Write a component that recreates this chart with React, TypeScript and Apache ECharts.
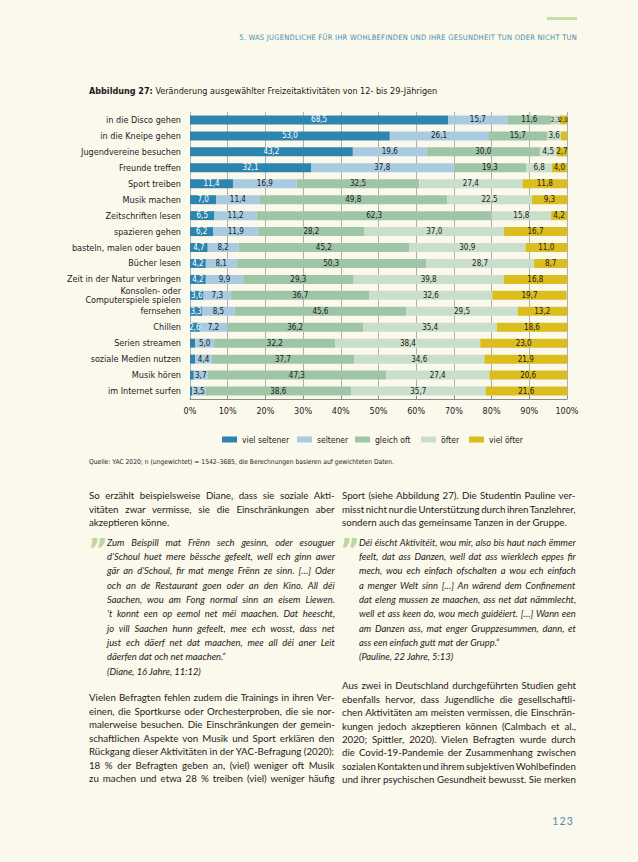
import React, { useEffect, useRef } from 'react';
import * as echarts from 'echarts';

const categories = [
  'in die Disco gehen',
  'in die Kneipe gehen',
  'Jugendvereine besuchen',
  'Freunde treffen',
  'Sport treiben',
  'Musik machen',
  'Zeitschriften lesen',
  'spazieren gehen',
  'basteln, malen oder bauen',
  'Bücher lesen',
  'Zeit in der Natur verbringen',
  'Konsolen- oder\nComputerspiele spielen',
  'fernsehen',
  'Chillen',
  'Serien streamen',
  'soziale Medien nutzen',
  'Musik hören',
  'im Internet surfen',
];
const seriesNames = ['viel seltener', 'seltener', 'gleich oft', 'öfter', 'viel öfter'];
const vielSeltener = [68.5, 53.0, 43.2, 32.1, 11.4, 7.0, 6.5, 6.2, 4.7, 4.2, 4.2, 3.6, 3.3, 2.6, 1.4, 1.4, 1.0, 0.6];
const seltener = [15.7, 26.1, 19.6, 37.8, 16.9, 11.4, 11.2, 11.9, 8.2, 8.1, 9.9, 7.3, 8.5, 7.2, 5.0, 4.4, 3.7, 3.5];
const gleichOft = [11.6, 15.7, 30.0, 19.3, 32.5, 49.8, 62.3, 28.2, 45.2, 50.3, 29.3, 36.7, 45.6, 36.2, 32.2, 37.7, 47.3, 38.6];
const oefter = [2.3, 3.6, 4.5, 6.8, 27.4, 22.5, 15.8, 37.0, 30.9, 28.7, 39.8, 32.6, 29.5, 35.4, 38.4, 34.6, 27.4, 35.7];
const vielOefter = [2.0, 1.6, 2.7, 4.0, 11.8, 9.3, 4.2, 16.7, 11.0, 8.7, 16.8, 19.7, 13.2, 18.6, 23.0, 21.9, 20.6, 21.6];
// rows whose value carries no printed label
const unlabelled = [[14, 15, 16, 17], [], [], [], [1]];
// rows whose label is printed in a smaller size (narrow segments)
const smallLabelled = [[], [], [], [0], [0]];
const xTicks = [0, 10, 20, 30, 40, 50, 60, 70, 80, 90, 100];

const headerText = '5. WAS JUGENDLICHE FÜR IHR WOHLBEFINDEN UND IHRE GESUNDHEIT TUN ODER NICHT TUN';
const titleBold = 'Abbildung 27:';
const titleRest = ' Veränderung ausgewählter Freizeitaktivitäten von 12- bis 29-Jährigen';
const sourceText = 'Quelle: YAC 2020; n (ungewichtet) = 1542–3685, die Berechnungen basieren auf gewichteten Daten.';

type Line = { t: string; j: boolean };
const J = (t: string): Line => ({ t, j: true });
const L = (t: string): Line => ({ t, j: false });

const leftP1 = [
  J('So erzählt beispielsweise Diane, dass sie soziale Akti-'),
  J('vitäten zwar vermisse, sie die Einschränkungen aber'),
  L('akzeptieren könne.'),
];
const leftQuote = [
  J('Zum Beispill mat Frënn sech gesinn, oder esouguer'),
  J('d’Schoul huet mere bëssche gefeelt, well ech ginn awer'),
  J('gär an d’Schoul, fir mat menge Frënn ze sinn. […] Oder'),
  J('och an de Restaurant goen oder an den Kino. All déi'),
  J('Saachen, wou am Fong normal sinn an eisem Liewen.'),
  J('’t konnt een op eemol net méi maachen. Dat heescht,'),
  J('jo vill Saachen hunn gefeelt, mee ech wosst, dass net'),
  J('just ech däerf net dat maachen, mee all déi aner Leit'),
  L('däerfen dat och net maachen.“'),
  L('(Diane, 16 Jahre, 11:12)'),
];
const leftP2 = [
  J('Vielen Befragten fehlen zudem die Trainings in ihren Ver-'),
  J('einen, die Sportkurse oder Orchesterproben, die sie nor-'),
  J('malerweise besuchen. Die Einschränkungen der gemein-'),
  J('schaftlichen Aspekte von Musik und Sport erklären den'),
  J('Rückgang dieser Aktivitäten in der YAC-Befragung (2020):'),
  J('18 % der Befragten geben an, (viel) weniger oft Musik'),
  J('zu machen und etwa 28 % treiben (viel) weniger häufig'),
];
const rightP1 = [
  J('Sport (siehe Abbildung 27). Die Studentin Pauline ver-'),
  J('misst nicht nur die Unterstützung durch ihren Tanzlehrer,'),
  L('sondern auch das gemeinsame Tanzen in der Gruppe.'),
];
const rightQuote = [
  J('Déi éischt Aktivitéit, wou mir, also bis haut nach ëmmer'),
  J('feelt, dat ass Danzen, well dat ass wierklech eppes fir'),
  J('mech, wou ech einfach ofschalten a wou ech einfach'),
  J('a menger Welt sinn […] An wärend dem Confinement'),
  J('dat eleng mussen ze maachen, ass net dat nämmlecht,'),
  J('well et ass keen do, wou mech guidéiert. […] Wann een'),
  J('am Danzen ass, mat enger Gruppzesummen, dann, et'),
  L('ass een einfach gutt mat der Grupp.“'),
  L('(Pauline, 22 Jahre, 5:13)'),
];
const rightP2 = [
  J('Aus zwei in Deutschland durchgeführten Studien geht'),
  J('ebenfalls hervor, dass Jugendliche die gesellschaftli-'),
  J('chen Aktivitäten am meisten vermissen, die Einschrän-'),
  J('kungen jedoch akzeptieren können (Calmbach et al.,'),
  J('2020; Spittler, 2020). Vielen Befragten wurde durch'),
  J('die Covid-19-Pandemie der Zusammenhang zwischen'),
  J('sozialen Kontakten und ihrem subjektiven Wohlbefinden'),
  J('und ihrer psychischen Gesundheit bewusst. Sie merken'),
];

const FONT_C = "'Liberation Sans Narrow','DejaVu Sans Condensed','Roboto Condensed',sans-serif";
const BODY = "Lato, 'Open Sans', sans-serif";
const BG = '#FBF8EC';
const TEAL = '#4A8FB1';
const colors = ['#2C85AF', '#A9CBE2', '#9EC6A6', '#C9DFCC', '#DBBD1F'];
const labelColors = ['#ffffff', '#1a1a1a', '#1a1a1a', '#1a1a1a', '#1a1a1a'];
const legendLefts = [222, 297, 355, 421, 469];

let canvasCtx: CanvasRenderingContext2D | null = null;
function measure(text: string, font: string): number {
  if (!canvasCtx) canvasCtx = document.createElement('canvas').getContext('2d');
  if (!canvasCtx) return 0;
  canvasCtx.font = font;
  return canvasCtx.measureText(text).width;
}

function TextBlock(props: { lines: Line[]; left: number; top: number; width: number; lh: number; size: number; italic?: boolean }) {
  const { lines, left, top, width, lh, size, italic } = props;
  const font = `${italic ? 'italic ' : ''}${size}px ${BODY}`;
  return (
    <>
      {lines.map((ln, i) => {
        let ws = 0;
        let ls = 0;
        if (ln.j) {
          const w = measure(ln.t, font);
          const n = (ln.t.match(/ /g) || []).length;
          const extra = width - w;
          ws = n ? extra / n : 0;
          if (ws < -1.0) {
            ws = -1.0;
            ls = (extra + 1.0 * n) / ln.t.length;
          }
        }
        return (
          <div
            key={i}
            style={{
              position: 'absolute',
              left,
              top: top - lh / 2 + i * lh,
              height: lh,
              lineHeight: lh + 'px',
              whiteSpace: 'pre',
              fontFamily: BODY,
              fontSize: size,
              fontStyle: italic ? 'italic' : 'normal',
              wordSpacing: ws,
              letterSpacing: ls,
              color: '#1c1c1c',
            }}
          >
            {ln.t}
          </div>
        );
      })}
    </>
  );
}

const quoteMarkStyle = (left: number): React.CSSProperties => ({
  position: 'absolute',
  left,
  top: 535,
  fontFamily: "'DejaVu Sans', sans-serif",
  fontWeight: 'bold',
  fontSize: 30,
  color: '#BCD89E',
  lineHeight: '30px',
});

export default function App() {
  const ref = useRef<HTMLDivElement>(null);

  useEffect(() => {
    if (!ref.current) return;
    const chart = echarts.init(ref.current, null, { renderer: 'svg' });
    const datasets = [vielSeltener, seltener, gleichOft, oefter, vielOefter];
    const fmt = (p: any) => Number(p.value).toFixed(1).replace('.', ',');
    chart.setOption({
      animation: false,
      backgroundColor: 'transparent',
      textStyle: { fontFamily: FONT_C },
      grid: { left: 190, top: 112, width: 377, height: 287, containLabel: false },
      legend: seriesNames.map((n, i) => ({
        left: legendLefts[i],
        top: 435,
        icon: 'rect',
        itemWidth: 15,
        itemHeight: 6,
        padding: 0,
        selectedMode: false,
        data: [n],
        textStyle: { fontFamily: FONT_C, fontSize: 8.5, color: '#222' },
      })),
      xAxis: {
        type: 'value',
        min: 0,
        max: 100,
        interval: 10,
        axisLine: { show: true, lineStyle: { color: '#8a8a8a', width: 1 } },
        axisTick: { show: true, inside: true, length: 3, lineStyle: { color: '#8a8a8a' } },
        splitLine: { show: true, lineStyle: { color: '#9c9c9c', width: 0.8 } },
        axisLabel: {
          margin: 7,
          fontFamily: FONT_C,
          fontSize: 9,
          color: '#222',
          customValues: xTicks,
          formatter: (v: number) => `${v}%`,
        },
      },
      yAxis: {
        type: 'category',
        inverse: true,
        data: categories,
        axisLine: { show: false },
        axisTick: { show: false },
        splitLine: { show: false },
        axisLabel: { margin: 9, fontFamily: FONT_C, fontSize: 9, color: '#222', lineHeight: 8.5 },
      },
      series: datasets.map((d, si) => ({
        name: seriesNames[si],
        type: 'bar',
        stack: 'total',
        barWidth: 9,
        silent: true,
        itemStyle: { color: colors[si] },
        label: {
          show: true,
          position: 'inside',
          color: labelColors[si],
          fontFamily: FONT_C,
          fontSize: 8,
          formatter: fmt,
        },
        data: d.map((v, i) => {
          if (unlabelled[si].includes(i)) return { value: v, label: { show: false } };
          if (smallLabelled[si].includes(i)) return { value: v, label: { fontSize: 6.5 } };
          return v;
        }),
      })),
      graphic: [
        {
          type: 'text',
          left: 89,
          top: 86,
          style: {
            text: `{b|${titleBold}}${titleRest}`,
            fontFamily: FONT_C,
            fontSize: 9,
            fill: '#1a1a1a',
            rich: { b: { fontFamily: FONT_C, fontSize: 9, fontWeight: 'bold', fill: '#1a1a1a' } },
          },
        },
        {
          type: 'text',
          left: 89,
          top: 458,
          style: { text: sourceText, fontFamily: FONT_C, fontSize: 6.7, fill: '#1a1a1a' },
        },
      ],
    });
    return () => chart.dispose();
  }, []);

  return (
    <div style={{ position: 'absolute', left: 0, top: 0, width: 638, height: 862, background: BG, overflow: 'hidden' }}>
      <div style={{ position: 'absolute', left: 547, top: 17, width: 30, height: 3, background: '#C6DDA9' }} />
      <div
        style={{
          position: 'absolute',
          right: 61,
          top: 33,
          fontFamily: FONT_C,
          fontSize: 7.5,
          letterSpacing: 0.25,
          color: TEAL,
          whiteSpace: 'nowrap',
        }}
      >
        {headerText}
      </div>
      <div ref={ref} style={{ position: 'absolute', left: 0, top: 0, width: 638, height: 480 }} />
      <TextBlock lines={leftP1} left={89} top={496} width={246} lh={13.3} size={9.7} />
      <div style={quoteMarkStyle(88)}>”</div>
      <TextBlock lines={leftQuote} left={107} top={543} width={228} lh={14.3} size={9.4} italic />
      <TextBlock lines={leftP2} left={89} top={698} width={246} lh={13.5} size={9.7} />
      <TextBlock lines={rightP1} left={342} top={496} width={234} lh={13.3} size={9.7} />
      <div style={quoteMarkStyle(340)}>”</div>
      <TextBlock lines={rightQuote} left={359} top={543} width={217} lh={14.3} size={9.4} italic />
      <TextBlock lines={rightP2} left={342} top={686} width={234} lh={13.4} size={9.7} />
      <div style={{ position: 'absolute', right: 64, top: 815, fontFamily: BODY, fontSize: 10.5, letterSpacing: 1.2, color: TEAL }}>123</div>
    </div>
  );
}
